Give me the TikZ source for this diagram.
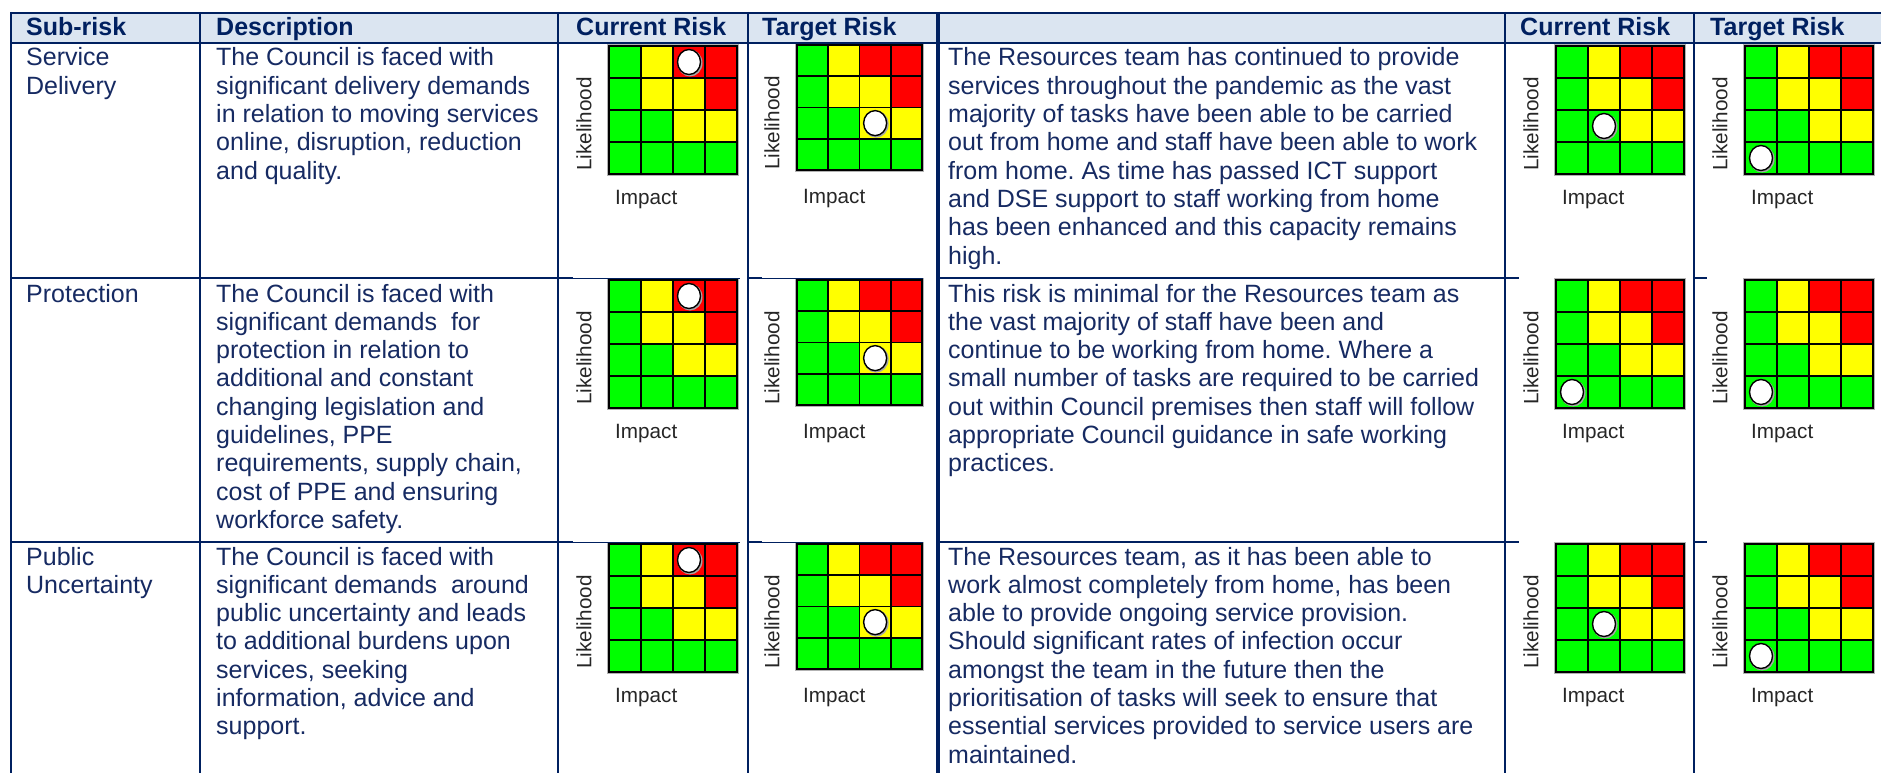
\documentclass[tikz,border=0pt]{standalone}
\usepackage{fontspec}
\setmainfont{Liberation Sans}
\frenchspacing

\definecolor{tblnavy}{RGB}{0,32,96}
\definecolor{txtnavy}{RGB}{22,42,98}
\definecolor{hdrblue}{RGB}{219,229,241}
\definecolor{rgreen}{RGB}{0,255,0}
\definecolor{ryellow}{RGB}{255,255,0}
\definecolor{rred}{RGB}{255,0,0}

\newcommand{\rows}[1]{\begin{tabular}[t]{@{}l@{}}#1\end{tabular}}

% name, left, top, cell, dot column, dot row
\newcommand{\riskgrid}[6]{%
  \foreach \clr [count=\k from 0] in {rgreen,ryellow,rred,rred,rgreen,ryellow,ryellow,rred,rgreen,rgreen,ryellow,ryellow,rgreen,rgreen,rgreen,rgreen}{
    \pgfmathtruncatemacro\cx{mod(\k,4)}
    \pgfmathtruncatemacro\cy{\k/4}
    \fill[\clr] ({#2+\cx*#4},{#3+\cy*#4}) rectangle ++(#4,#4);
  }
  \draw[black!30, line width=1pt] (#2-1.5,#3-1.5) rectangle ({#2+4*#4+1.5},{#3+4*#4+1.5});
  \foreach \t in {0,...,4}{
    \draw[gridline] ({#2+\t*#4},#3) -- ++(0,4*#4);
    \draw[gridline] (#2,{#3+\t*#4}) -- ++(4*#4,0);
  }
  \fill[black!35] ({#2+(#5-0.5)*#4+1},{#3+(#6-0.5)*#4+1}) ellipse (12.5 and 13.5);
  \draw[riskdot] ({#2+(#5-0.5)*#4},{#3+(#6-0.5)*#4}) ellipse (11.5 and 12.5);
  \node[axislabel, rotate=90] (#1-lik) at (#2-25,#3+78) {Likelihood};
  \node[axislabel, anchor=west] (#1-imp) at (#2+6,#3+154) {Impact};
}

\begin{document}
\begin{tikzpicture}[x=1pt,y=-1pt,
  rule/.style={tblnavy, line width=2pt},
  thickrule/.style={tblnavy, line width=3.5pt},
  thinrule/.style={tblnavy, line width=0.8pt},
  gridline/.style={black, line width=1.6pt, line cap=rect},
  riskdot/.style={draw=black, fill=white, line width=1.4pt},
  axislabel/.style={inner sep=0pt, font=\fontsize{20.7}{24}\selectfont, text=black!85},
  head/.style={anchor=base west, inner sep=0pt, font=\fontsize{25}{28.3}\selectfont\bfseries, text=tblnavy},
  body/.style={anchor=base west, inner sep=0pt, font=\fontsize{25}{28.3}\selectfont, text=txtnavy}]
\useasboundingbox (0,0) rectangle (1881,773);

% header band
\fill[hdrblue] (11,13) rectangle (1881,43);

% risk matrices
\riskgrid{cur1}{609}{46}{32}{3}{1}
\riskgrid{tar1}{797}{45}{31.25}{3}{3}
\riskgrid{rcur1}{1556}{46}{32}{2}{3}
\riskgrid{rtar1}{1745}{46}{32}{1}{4}
\riskgrid{cur2}{609}{280}{32}{3}{1}
\riskgrid{tar2}{797}{280}{31.25}{3}{3}
\riskgrid{rcur2}{1556}{280}{32}{1}{4}
\riskgrid{rtar2}{1745}{280}{32}{1}{4}
\riskgrid{cur3}{609}{544}{32}{3}{1}
\riskgrid{tar3}{797}{544}{31.25}{3}{3}
\riskgrid{rcur3}{1556}{544}{32}{2}{3}
\riskgrid{rtar3}{1745}{544}{32}{1}{4}

% table rules
\draw[rule] (11,13) -- (1881,13);
\draw[rule] (11,43) -- (1881,43);
\foreach \y in {278,542}{
  \draw[rule] (11,\y) -- (573,\y);
  \draw[thinrule] (573,\y) -- (740,\y);
  \draw[rule] (748,\y) -- (762,\y);
  \draw[thinrule] (762,\y) -- (923,\y);
  \draw[rule] (938,\y) -- (1519,\y);
  \draw[rule] (1694,\y) -- (1707,\y);
}
\foreach \x in {11,200,558,748,1505,1694}{
  \draw[rule] (\x,12) -- (\x,773);
}
\draw[thickrule] (938,12) -- (938,773);

% header texts
\node[head] (h-sub) at (26,36) {Sub-risk};
\node[head] (h-desc) at (216,36) {Description};
\node[head] (h-cur) at (576,36) {Current Risk};
\node[head] (h-tar) at (762,36) {Target Risk};
\node[head] (h-rcur) at (1520,36) {Current Risk};
\node[head] (h-rtar) at (1710,36) {Target Risk};

% row 1
\node[body] (sub1) at (26,66) {\rows{Service\\Delivery}};
\node[body] (desc1) at (216,66) {\rows{The Council is faced with\\significant delivery demands\\in relation to moving services\\online, disruption, reduction\\and quality.}};
\node[body] (note1) at (948,66) {\rows{The Resources team has continued to provide\\services throughout the pandemic as the vast\\majority of tasks have been able to be carried\\out from home and staff have been able to work\\from home. As time has passed ICT support\\and DSE support to staff working from home\\has been enhanced and this capacity remains\\high.}};

% row 2
\node[body] (sub2) at (26,302) {\rows{Protection}};
\node[body] (desc2) at (216,302) {\rows{The Council is faced with\\significant demands\ \ for\\protection in relation to\\additional and constant\\changing legislation and\\guidelines, PPE\\requirements, supply chain,\\cost of PPE and ensuring\\workforce safety.}};
\node[body] (note2) at (948,302) {\rows{This risk is minimal for the Resources team as\\the vast majority of staff have been and\\continue to be working from home. Where a\\small number of tasks are required to be carried\\out within Council premises then staff will follow\\appropriate Council guidance in safe working\\practices.}};

% row 3
\node[body] (sub3) at (26,565) {\rows{Public\\Uncertainty}};
\node[body] (desc3) at (216,565) {\rows{The Council is faced with\\significant demands\ \ around\\public uncertainty and leads\\to additional burdens upon\\services, seeking\\information, advice and\\support.}};
\node[body] (note3) at (948,565) {\rows{The Resources team, as it has been able to\\work almost completely from home, has been\\able to provide ongoing service provision.\\Should significant rates of infection occur\\amongst the team in the future then the\\prioritisation of tasks will seek to ensure that\\essential services provided to service users are\\maintained.}};
\end{tikzpicture}
\end{document}
